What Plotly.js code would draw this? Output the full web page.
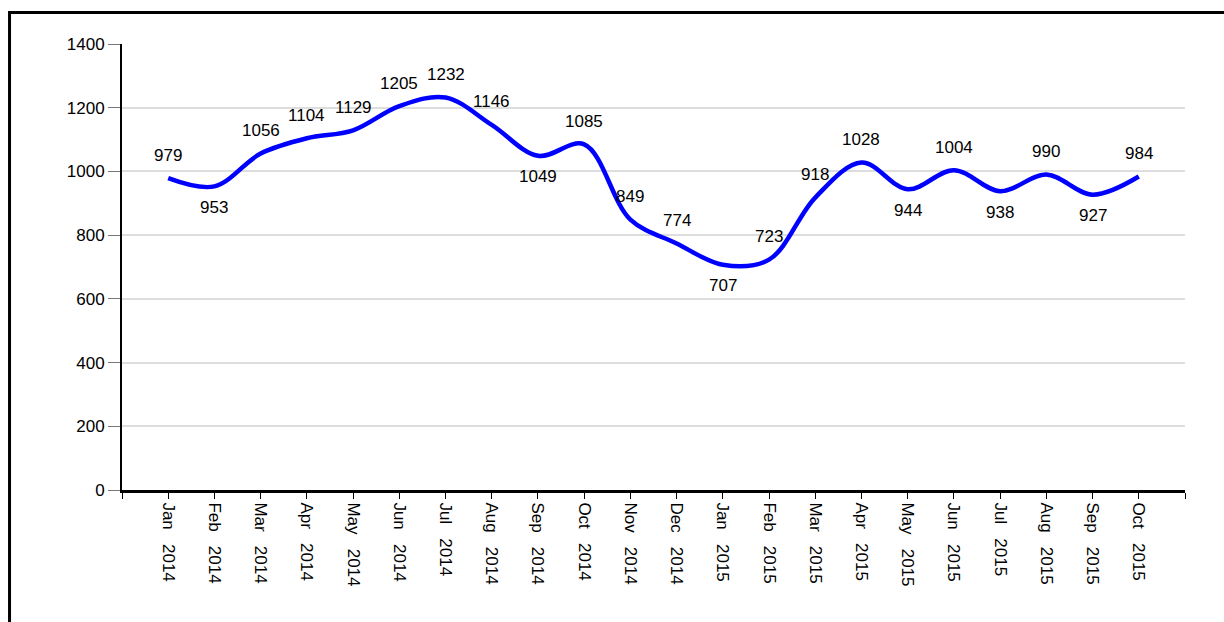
<!DOCTYPE html>
<html>
<head>
<meta charset="utf-8">
<script src="https://cdn.plot.ly/plotly-3.0.1.min.js"></script>
<style>
  html, body { margin: 0; padding: 0; background: #fff; }
  #chart { width: 1224px; height: 622px; }
</style>
</head>
<body>
<div id="chart"></div>
<script>
const months = ["Jan", "Feb", "Mar", "Apr", "May", "Jun", "Jul", "Aug", "Sep", "Oct", "Nov", "Dec",
                "Jan", "Feb", "Mar", "Apr", "May", "Jun", "Jul", "Aug", "Sep", "Oct"];
const years = ["2014", "2014", "2014", "2014", "2014", "2014", "2014", "2014", "2014", "2014", "2014", "2014",
               "2015", "2015", "2015", "2015", "2015", "2015", "2015", "2015", "2015", "2015"];
const values = [979, 953, 1056, 1104, 1129, 1205, 1232, 1146, 1049, 1085, 849, 774,
                707, 723, 918, 1028, 944, 1004, 938, 990, 927, 984];
// label placement: 1 = above the point, -1 = below
const labelSide = [1, -1, 1, 1, 1, 1, 1, 1, -1, 1, 1, 1,
                   -1, 1, 1, 1, -1, 1, -1, 1, -1, 1];
const yTicks = [0, 200, 400, 600, 800, 1000, 1200, 1400];

const idx = values.map((v, i) => i);
const labels = months.map((m, i) => m + "\u00a0\u00a0\u00a0" + years[i]);

const FONT = "Liberation Sans, Arial, sans-serif";

const trace = {
  x: idx,
  y: values,
  type: "scatter",
  mode: "lines",
  line: { color: "#0000ff", width: 4.5, shape: "spline", smoothing: 1 },
  hoverinfo: "skip"
};

const annotations = values.map((v, i) => ({
  x: i, y: v, xref: "x", yref: "y",
  text: String(v), showarrow: false,
  yshift: labelSide[i] > 0 ? 23 : -21,
  font: { family: FONT, size: 17, color: "#000" }
}));

const tickvals = [-1].concat(idx, [idx.length]);
const ticktext = [""].concat(labels, [""]);

const layout = {
  width: 1224, height: 622,
  margin: { l: 122, r: 39, t: 44, b: 132 },
  paper_bgcolor: "#fff", plot_bgcolor: "#fff",
  showlegend: false,
  font: { family: FONT, size: 17, color: "#000" },
  xaxis: {
    range: [-1, idx.length],
    tickmode: "array", tickvals: tickvals, ticktext: ticktext,
    tickangle: 90,
    ticks: "outside", ticklen: 6, tickwidth: 1, tickcolor: "#000",
    showgrid: false, zeroline: false,
    showline: true, linecolor: "#000", linewidth: 3,
    tickfont: { size: 17 }
  },
  yaxis: {
    range: [0, 1400],
    tickmode: "array", tickvals: yTicks,
    ticks: "outside", ticklen: 12, tickwidth: 1, tickcolor: "#777",
    showgrid: true, gridcolor: "#dddddd", gridwidth: 2,
    zeroline: false,
    showline: true, linecolor: "#000", linewidth: 2,
    tickfont: { size: 17 }
  },
  annotations: annotations,
  shapes: [
    {
      type: "rect", xref: "paper", yref: "paper",
      x0: -0.1058, x1: 1.2, y0: -0.5, y1: 1.0706,
      line: { color: "#000", width: 3 }, fillcolor: "rgba(0,0,0,0)", layer: "below"
    }
  ]
};

Plotly.newPlot("chart", [trace], layout, { displayModeBar: false, staticPlot: true });
</script>
</body>
</html>
